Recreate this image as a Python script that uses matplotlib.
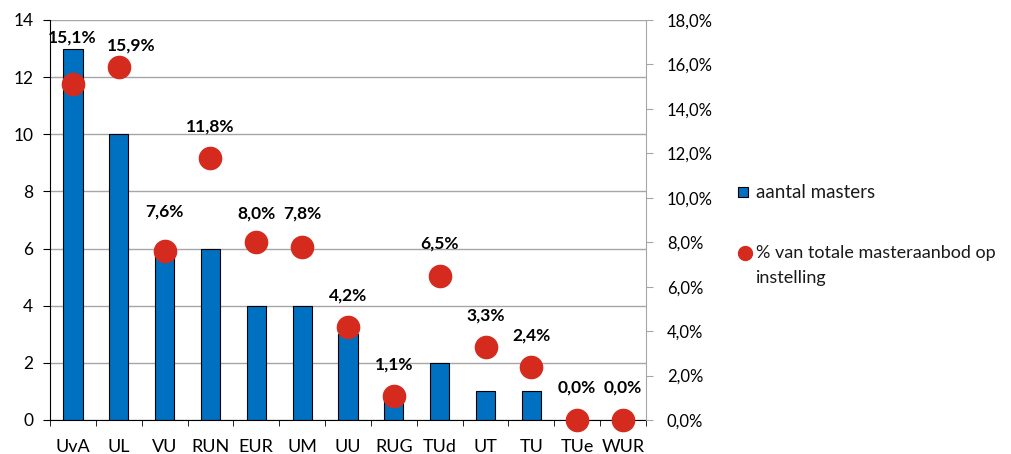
import matplotlib
matplotlib.use("Agg")
import matplotlib.pyplot as plt
from matplotlib.ticker import FuncFormatter, MultipleLocator, FixedLocator
from matplotlib.patches import Rectangle
from matplotlib.lines import Line2D

plt.rcParams['font.family'] = ['Lato', 'DejaVu Sans']

categories = ["UvA", "UL", "VU", "RUN", "EUR", "UM", "UU", "RUG", "TUd", "UT", "TU", "TUe", "WUR"]
masters = [13, 10, 6, 6, 4, 4, 3, 1, 2, 1, 1, 0, 0]
percent = [15.1, 15.9, 7.6, 11.8, 8.0, 7.8, 4.2, 1.1, 6.5, 3.3, 2.4, 0.0, 0.0]
legend_labels = ["aantal masters", "% van totale masteraanbod op", "instelling"]

label_offsets_px = [47, 21, 40, 31, 29, 33, 31, 31, 32, 31, 31, 32, 32]
label_dx_px = [-1, 12, 0, 0, 0, 0, 0, 0, 0, 0, 0, 0, 0]
bar_color = "#0070C0"
dot_color = "#D52B1E"
W, H = 1011, 454

fig = plt.figure(figsize=(W / 100, H / 100), dpi=100)
ax = fig.add_axes([50 / W, 34 / H, 596 / W, 400 / H])
x = list(range(len(categories)))
ax.bar(x, masters, width=0.42, color=bar_color, edgecolor="black", linewidth=0.8, zorder=2)
ax.set_xlim(-0.5, len(categories) - 0.5)
ax.set_ylim(0, 14)
ax.yaxis.set_major_locator(MultipleLocator(2))
ax.grid(axis="y", color="#A6A6A6", linewidth=1, zorder=0)
ax.set_axisbelow(True)
ax.set_xticks(x)
ax.set_xticklabels(categories, fontsize=13)
ax.xaxis.set_minor_locator(FixedLocator([i + 0.5 for i in range(-1, len(categories))]))
ax.tick_params(axis="x", which="major", length=0, pad=14)
ax.tick_params(axis="x", which="minor", length=4, color="black", direction="out")
ax.tick_params(axis="y", labelsize=12.5, length=5, direction="out", pad=7)
for s in ["top", "right"]:
    ax.spines[s].set_visible(False)

ax2 = ax.twinx()
ax2.set_ylim(0, 18)
ax2.yaxis.set_major_locator(MultipleLocator(2))
ax2.yaxis.set_major_formatter(FuncFormatter(lambda v, p: f"{v:.1f}%".replace(".", ",")))
ax2.tick_params(axis="y", labelsize=12, length=5, direction="out", color="#A6A6A6", pad=10)
for s in ["top", "left", "bottom"]:
    ax2.spines[s].set_visible(False)
ax2.spines["right"].set_color("#A6A6A6")
ax2.plot(x, percent, linestyle="none", marker="o", markersize=16, color=dot_color, zorder=3, clip_on=False)
for xi, p, off, dx in zip(x, percent, label_offsets_px, label_dx_px):
    ax2.annotate(f"{p:.1f}%".replace(".", ","), (xi, p), xytext=(dx * 0.72, off * 0.72),
                 textcoords="offset points", ha="center", va="center",
                 fontsize=12.5, fontweight="bold", annotation_clip=False)

# legend (drawn in figure pixel coordinates)
def fy(py):
    return 1 - py / H

fig.add_artist(Rectangle((738 / W, fy(197)), 10 / W, 10 / H, facecolor=bar_color,
                         edgecolor="black", linewidth=0.8, transform=fig.transFigure))
fig.add_artist(Line2D([745 / W], [fy(253)], marker="o", markersize=10, color=dot_color,
                      linestyle="none", transform=fig.transFigure))
fig.text(756 / W, fy(192), legend_labels[0], fontsize=13.5, va="center", ha="left", color="#1a1a1a")
fig.text(756 / W, fy(253), legend_labels[1], fontsize=13, va="center", ha="left", color="#1a1a1a")
fig.text(756 / W, fy(278), legend_labels[2], fontsize=13, va="center", ha="left", color="#1a1a1a")

fig.savefig("out.png", dpi=100)
